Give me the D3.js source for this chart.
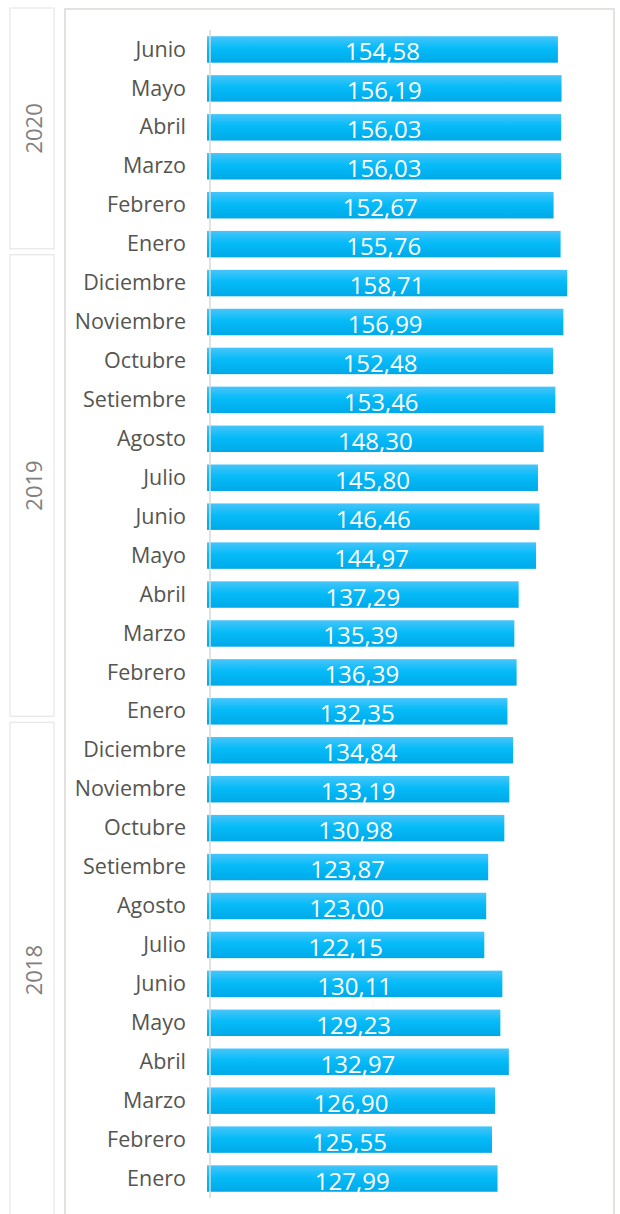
<!DOCTYPE html>
<html>
<head>
<meta charset="utf-8">
<script src="https://cdn.jsdelivr.net/npm/d3@7"></script>
<style>
  html, body { margin: 0; padding: 0; background: #ffffff; }
  svg { display: block; }
</style>
</head>
<body>
<div id="chart"></div>
<script>
// Monthly values, chronological order, grouped by year
const years = ["2018", "2019", "2020"];
const months2018 = ["Enero", "Febrero", "Marzo", "Abril", "Mayo", "Junio", "Julio", "Agosto", "Setiembre", "Octubre", "Noviembre", "Diciembre"];
const values2018 = [127.99, 125.55, 126.90, 132.97, 129.23, 130.11, 122.15, 123.00, 123.87, 130.98, 133.19, 134.84];
const months2019 = ["Enero", "Febrero", "Marzo", "Abril", "Mayo", "Junio", "Julio", "Agosto", "Setiembre", "Octubre", "Noviembre", "Diciembre"];
const values2019 = [132.35, 136.39, 135.39, 137.29, 144.97, 146.46, 145.80, 148.30, 153.46, 152.48, 156.99, 158.71];
const months2020 = ["Enero", "Febrero", "Marzo", "Abril", "Mayo", "Junio"];
const values2020 = [155.76, 152.67, 156.03, 156.03, 156.19, 154.58];

const W = 620, H = 1214;

// Rows listed from newest (top) to oldest (bottom)
const groups = [
  { year: years[2], months: months2020, values: values2020 },
  { year: years[1], months: months2019, values: values2019 },
  { year: years[0], months: months2018, values: values2018 }
];
const rows = [];
groups.forEach(g => {
  for (let i = g.months.length - 1; i >= 0; i--) {
    rows.push({ year: g.year, month: g.months[i], value: g.values[i] });
  }
});
rows.forEach((r, i) => r.idx = i);

const svg = d3.select("#chart").append("svg")
  .attr("width", W).attr("height", H);

svg.append("rect").attr("width", W).attr("height", H).attr("fill", "#ffffff");

const defs = svg.append("defs");
const grad = defs.append("linearGradient")
  .attr("id", "barFill").attr("x1", 0).attr("y1", 0).attr("x2", 0).attr("y2", 1);
grad.append("stop").attr("offset", "0%").attr("stop-color", "#48c5fa");
grad.append("stop").attr("offset", "45%").attr("stop-color", "#05bbf8");
grad.append("stop").attr("offset", "100%").attr("stop-color", "#00a9e8");

// Scales
const y = d3.scaleBand()
  .domain(rows.map(d => d.idx))
  .range([30, 1198])
  .paddingInner(0.32)
  .paddingOuter(0.16);

const x = d3.scaleLinear()
  .domain([0, 160])
  .range([207, 207 + 160 * 2.27]);

// Plot frame
svg.append("rect")
  .attr("x", 65).attr("y", 9)
  .attr("width", 549).attr("height", H + 20)
  .attr("fill", "none")
  .attr("stroke", "#e3e2de")
  .attr("stroke-width", 2);

// Year group boxes on the left
const yearRow = d3.scaleLinear().domain([0, rows.length]).range([18, 18 + rows.length * 38.96]);
let start = 0;
groups.forEach((g, gi) => {
  const n = g.months.length;
  let top = yearRow(start) + 3;
  let bot = yearRow(start + n) - 3;
  if (gi === 0) top = 8;
  if (gi === groups.length - 1) bot = 1218;
  svg.append("rect")
    .attr("x", 10).attr("y", top)
    .attr("width", 44).attr("height", bot - top)
    .attr("fill", "none")
    .attr("stroke", "#e6e6e6")
    .attr("stroke-width", 1.2);
  const cy = (top + bot) / 2;
  svg.append("text")
    .attr("transform", `translate(42,${cy}) rotate(-90)`)
    .attr("text-anchor", "middle")
    .attr("font-family", "'Open Sans', sans-serif")
    .attr("font-size", 22)
    .attr("fill", "#808080")
    .text(g.year);
  start += n;
});

// Bars
svg.append("g").selectAll("rect")
  .data(rows)
  .join("rect")
  .attr("x", x(0))
  .attr("y", d => y(d.idx))
  .attr("width", d => x(d.value) - x(0))
  .attr("height", y.bandwidth())
  .attr("fill", "url(#barFill)");

// Category axis line
svg.append("line")
  .attr("x1", 210).attr("x2", 210)
  .attr("y1", 30).attr("y2", 1198)
  .attr("stroke", "#d9d9d9")
  .attr("stroke-width", 1.5);

// Month labels
const yAxis = d3.axisLeft(y).tickSize(0).tickPadding(0)
  .tickFormat(i => rows[i].month);
const ax = svg.append("g").attr("transform", "translate(186,0)").call(yAxis);
ax.select(".domain").remove();
ax.selectAll("text")
  .attr("font-family", "'Open Sans', sans-serif")
  .attr("font-size", 21.5)
  .attr("fill", "#555550")
  .attr("dy", "0.33em");

// Value labels
const fmt = v => d3.format(".2f")(v).replace(".", ",");
svg.append("g").selectAll("text")
  .data(rows)
  .join("text")
  .attr("x", d => (x(0) + x(d.value)) / 2)
  .attr("y", d => y(d.idx) + y.bandwidth() / 2 + 11)
  .attr("text-anchor", "middle")
  .attr("font-family", "'Open Sans', sans-serif")
  .attr("font-size", 24)
  .attr("fill", "#ffffff")
  .text(d => fmt(d.value));
</script>
</body>
</html>
